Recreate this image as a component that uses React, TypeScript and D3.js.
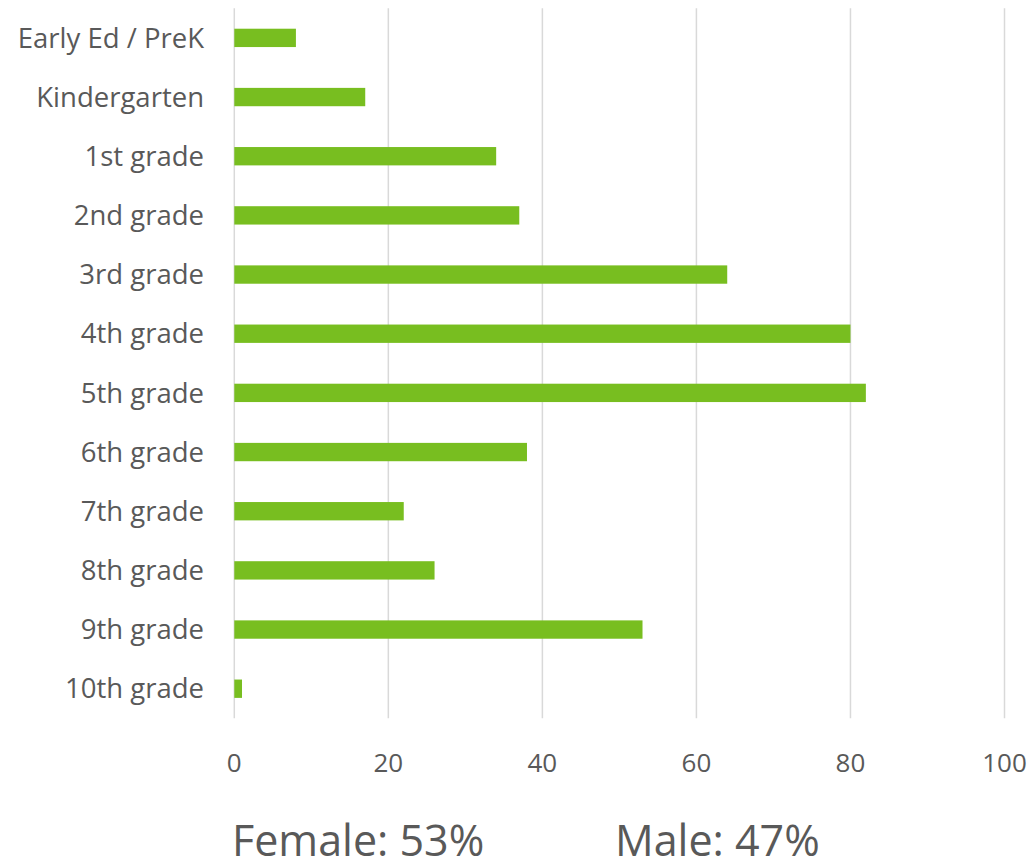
import React from "react";
import * as d3 from "d3";

const categories = [
  "Early Ed / PreK",
  "Kindergarten",
  "1st grade",
  "2nd grade",
  "3rd grade",
  "4th grade",
  "5th grade",
  "6th grade",
  "7th grade",
  "8th grade",
  "9th grade",
  "10th grade",
];
const values = [8, 17, 34, 37, 64, 80, 82, 38, 22, 26, 53, 1];
const xTicks = [0, 20, 40, 60, 80, 100];
const footerLabels = ["Female: 53%", "Male: 47%"];

const W = 1033;
const H = 868;
const FONT = "'Open Sans', 'Noto Sans', sans-serif";
const TEXT = "#595959";

export default function App() {
  const x = d3.scaleLinear().domain([0, 100]).range([234.3, 1004.5]);
  const y = d3
    .scaleBand<string>()
    .domain(categories)
    .range([8.3, 718.3])
    .paddingInner(0.69)
    .paddingOuter(0.345);

  return (
    <svg
      width={W}
      height={H}
      style={{ position: "absolute", left: 0, top: 0, background: "#fff" }}
    >
      {xTicks.map((t) => (
        <line
          key={"g" + t}
          x1={x(t)}
          x2={x(t)}
          y1={8.3}
          y2={718.3}
          stroke="#d9d9d9"
          strokeWidth={1.5}
        />
      ))}
      {categories.map((c, i) => (
        <rect
          key={c}
          x={x(0)}
          y={y(c)}
          width={x(values[i]) - x(0)}
          height={y.bandwidth()}
          fill="#78BE20"
        />
      ))}
      {categories.map((c) => (
        <text
          key={"l" + c}
          x={204}
          y={(y(c) as number) + y.bandwidth() / 2}
          dy="0.35em"
          textAnchor="end"
          fontFamily={FONT}
          fontSize={27.5}
          fill={TEXT}
        >
          {c}
        </text>
      ))}
      {xTicks.map((t) => (
        <text
          key={"t" + t}
          x={x(t)}
          y={763}
          dy="0.35em"
          textAnchor="middle"
          fontFamily={FONT}
          fontSize={26}
          fill={TEXT}
        >
          {t}
        </text>
      ))}
      <text x={232} y={856} fontFamily={FONT} fontSize={43} fill={TEXT}>
        {footerLabels[0]}
      </text>
      <text x={615} y={856} fontFamily={FONT} fontSize={43} fill={TEXT}>
        {footerLabels[1]}
      </text>
    </svg>
  );
}
